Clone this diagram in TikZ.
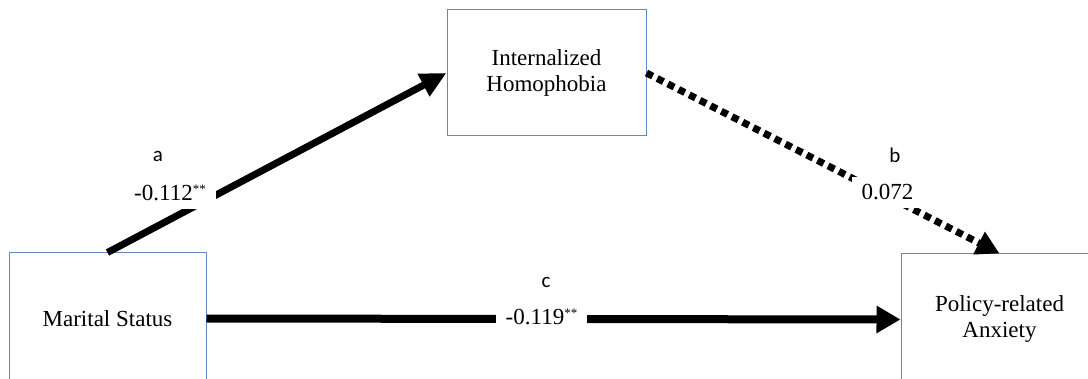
\documentclass[tikz,border=0pt]{standalone}
\usepackage{fontspec}
\setmainfont{Liberation Serif}
\newfontfamily\lblfont{Carlito}
\usetikzlibrary{arrows.meta}
\definecolor{boxblue}{RGB}{100,135,195}
\newcommand{\sigstars}{\raisebox{7pt}{\fontsize{13}{13}\selectfont **}}
\tikzset{
  box/.style={draw=boxblue, line width=1pt, fill=white, align=center,
    minimum width=197pt, inner sep=0pt, font=\fontsize{23}{26}\selectfont},
  coef/.style={fill=white, anchor=base, inner xsep=10pt, inner ysep=8pt,
    font=\fontsize{23}{26}\selectfont},
  pathlbl/.style={anchor=base, inner sep=0pt, font=\lblfont\fontsize{21}{24}\selectfont},
  thick arrow/.style={line width=7pt, line cap=butt},
}
\begin{document}
\begin{tikzpicture}[x=1pt,y=-1pt]
\clip (0,0) rectangle (1088,379);
\fill[white] (0,0) rectangle (1088,379);
% boxes
\node[box, minimum height=131pt] (M) at (107.5,318.5) {Marital Status};
\node[box, minimum width=199pt, minimum height=126pt] (I) at (546.5,73) {Internalized\\Homophobia};
\node[box, minimum height=131pt] (P) at (999.5,319.5) {Policy-related\\Anxiety};
% paths
\draw[thick arrow, -{Triangle[length=26pt,width=24pt]}] (M.north) -- (I.west);
\draw[thick arrow, dash pattern=on 7pt off 5pt, -{Triangle[length=23pt,width=24pt]}] (I.east) -- (P.north);
\draw[thick arrow, line width=8pt, -{Triangle[length=24pt,width=26pt]}] (M.east) -- (P.west);
% labels
\node[pathlbl] (la) at (158,162) {a};
\node[coef] (ca) at (170,201) {-0.112\sigstars};
\node[pathlbl] (lb) at (895,163) {b};
\node[coef] (cb) at (887.5,200) {0.072};
\node[pathlbl] (lc) at (546,288) {c};
\node[coef] (cc) at (541.5,325) {-0.119\sigstars};
\end{tikzpicture}
\end{document}
